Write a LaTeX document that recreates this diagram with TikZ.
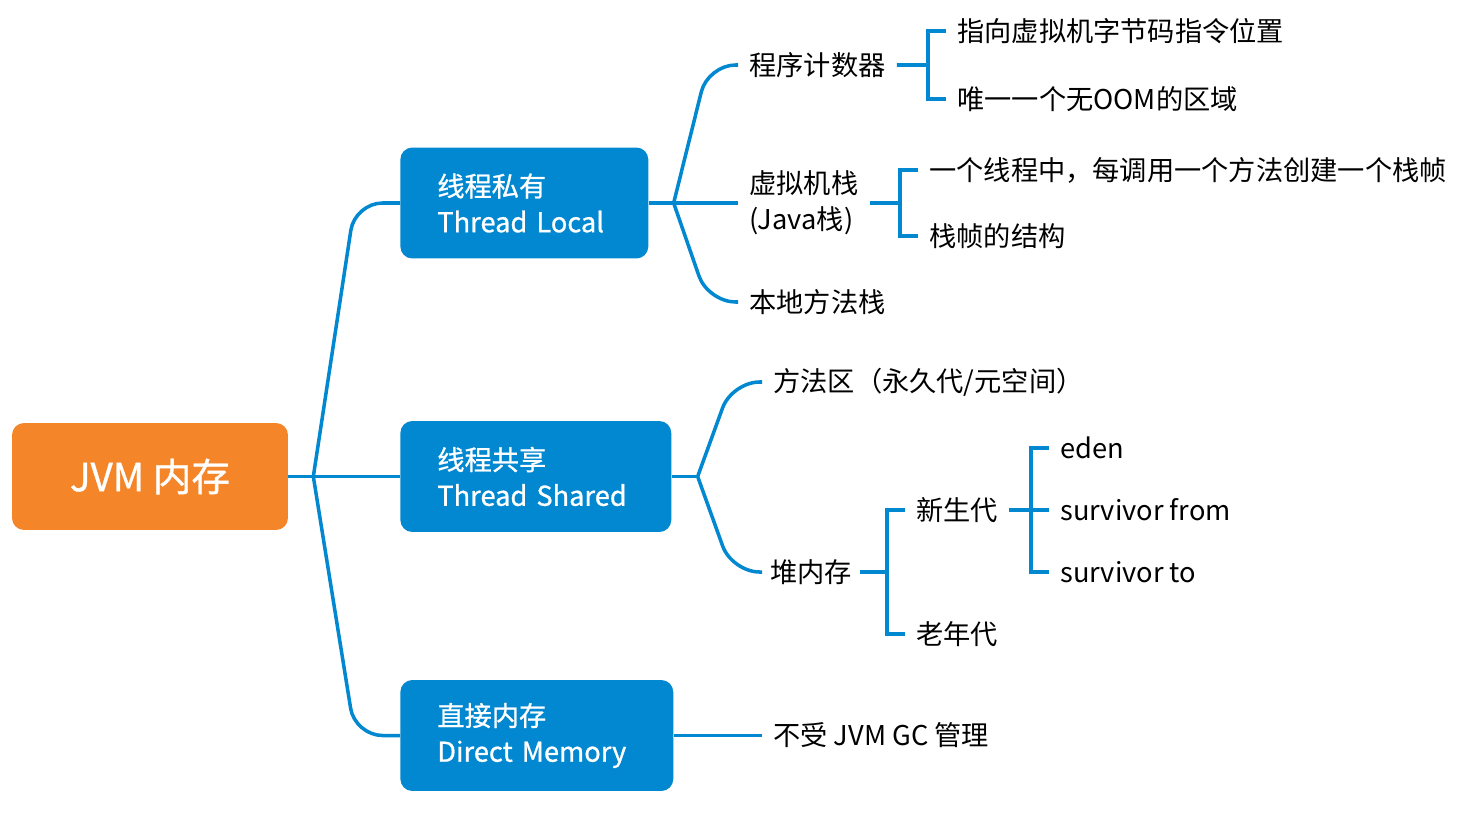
\documentclass[tikz,border=0pt]{standalone}
\usepackage{fontspec}
\setmainfont{Noto Sans CJK SC}
\newfontfamily\medfont{Noto Sans CJK SC}[FakeBold=0.9]
\usetikzlibrary{calc}
\definecolor{mmblue}{RGB}{2,136,209}
\definecolor{mmorange}{RGB}{245,133,41}

\begin{document}
\begin{tikzpicture}[x=0.02cm,y=-0.02cm,
    link/.style={draw=mmblue,line width=2pt},
    curvelink/.style={link,rounded corners=0.55cm},
    topic/.style={fill=mmblue,rounded corners=0.24cm,text=white,align=left,anchor=west,
      minimum height=2.22cm,inner xsep=0.74cm,font=\medfont\fontsize{15.5}{20.4}\selectfont},
    leaf/.style={anchor=west,inner xsep=0.22cm,inner ysep=0pt,align=left,
      font=\fontsize{15.5}{20.4}\selectfont}]
  \useasboundingbox (0,0) rectangle (1482,822);
  \node[fill=mmorange,rounded corners=0.24cm,text=white,minimum width=5.52cm,minimum height=2.14cm,
    font=\medfont\fontsize{22}{26}\selectfont] (root) at (150,476.5) {JVM 内存};
  \node[topic,minimum width=4.96cm,text width=3.48cm] (local) at (400,203) {线程私有\\Thread Local};
  \node[topic,minimum width=5.42cm,text width=3.94cm] (shared) at (400,476.5) {线程共享\\Thread Shared};
  \node[topic,minimum width=5.46cm,text width=3.98cm] (direct) at (400,735.5) {直接内存\\Direct Memory};
  \node[leaf] (pc) at (738,65) {程序计数器};
  \node[leaf] (vms) at (738,203) {虚拟机栈\\(Java栈)};
  \node[leaf] (nms) at (738,302) {本地方法栈};
  \node[leaf] (pc1) at (946,31) {指向虚拟机字节码指令位置};
  \node[leaf] (pc2) at (946,99) {唯一一个无OOM的区域};
  \node[leaf] (vms1) at (918,170) {一个线程中，每调用一个方法创建一个栈帧};
  \node[leaf] (vms2) at (918,236) {栈帧的结构};
  \node[leaf] (ma) at (762,382) {方法区（永久代/元空间）};
  \node[leaf,inner xsep=0.16cm] (heap) at (762,572) {堆内存};
  \node[leaf] (young) at (905,510) {新生代};
  \node[leaf] (old) at (905,634) {老年代};
  \node[leaf] (eden) at (1049,448) {eden};
  \node[leaf] (sfrom) at (1049,510) {survivor from};
  \node[leaf] (sto) at (1049,572) {survivor to};
  \node[leaf] (gc) at (762,735.5) {不受 JVM GC 管理};

  \coordinate (jroot) at ($(root.east)+(25,0)$);
  \coordinate (jlocal) at ($(local.east)+(25,0)$);
  \coordinate (jshared) at ($(shared.east)+(26,0)$);
  \coordinate (jpc) at ($(pc1.west)!0.5!(pc2.west)+(-18,0)$);
  \coordinate (jvms) at ($(vms1.west)!0.5!(vms2.west)+(-18,0)$);
  \coordinate (jheap) at ($(young.west)!0.5!(old.west)+(-18,0)$);
  \coordinate (jyoung) at ($(eden.west)!0.5!(sto.west)+(-18,0)$);

  \draw[link] (root.east) -- (shared.west);
  \draw[curvelink] (jroot) -- ($(local.west)+(-45,0)$) -- (local.west);
  \draw[curvelink] (jroot) -- ($(direct.west)+(-45,0)$) -- (direct.west);
  \draw[link] (local.east) -- (vms.west);
  \draw[curvelink] (jlocal) -- ($(pc.west)+(-30,0)$) -- (pc.west);
  \draw[curvelink] (jlocal) -- ($(nms.west)+(-30,0)$) -- (nms.west);
  \draw[link] (shared.east) -- (jshared);
  \draw[curvelink] (jshared) -- ($(ma.west)+(-30,0)$) -- (ma.west);
  \draw[curvelink] (jshared) -- ($(heap.west)+(-30,0)$) -- (heap.west);
  \draw[link] (direct.east) -- (gc.west);
  \draw[link] (pc.east) -- (jpc);
  \draw[link] (pc1.west) -| (jpc) |- (pc2.west);
  \draw[link] (vms.east |- jvms) -- (jvms);
  \draw[link] (vms1.west) -| (jvms) |- (vms2.west);
  \draw[link] (heap.east) -- (jheap);
  \draw[link] (young.west) -| (jheap) |- (old.west);
  \draw[link] (young.east) -- (sfrom.west);
  \draw[link] (eden.west) -| (jyoung) |- (sto.west);
\end{tikzpicture}
\end{document}
